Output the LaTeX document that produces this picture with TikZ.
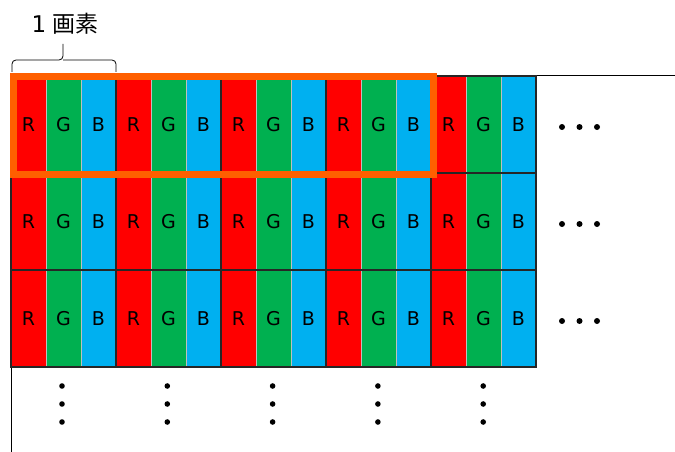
\documentclass[tikz,border=0pt]{standalone}
\usepackage{fontspec}
\setmainfont{DejaVu Sans}
\newfontfamily\cjk{Noto Sans CJK JP}
\definecolor{subR}{HTML}{FF0000}
\definecolor{subG}{HTML}{00B050}
\definecolor{subB}{HTML}{00B0F0}
\definecolor{frameorange}{HTML}{FF5F00}
\definecolor{pixedge}{HTML}{262626}
\begin{document}
\begin{tikzpicture}[x=1pt,y=-1pt,
  subpix/.style={rectangle,inner sep=0pt,minimum width=35pt,minimum height=97pt,
    draw=black!25,line width=0.8pt,font=\fontsize{19}{22}\selectfont},
  pixbox/.style={rectangle,inner sep=0pt,minimum width=105pt,minimum height=97pt,
    draw=pixedge,line width=1.1pt},
  dotmark/.style={fill=black},
  axis/.style={draw=black,line width=1pt}]
  \useasboundingbox (0,0) rectangle (675,452);

  % axes
  \coordinate (axO) at (11,76);
  \coordinate (axX) at (675,76);
  \coordinate (axY) at (11,452);
  \draw[axis] (axX) -- (axO) -- (axY);

  % 3 rows x 5 pixels, each made of R, G, B stripes
  \foreach \r in {0,1,2}{
    \foreach \p in {0,...,4}{
      \foreach \k/\c/\t in {0/subR/R,1/subG/G,2/subB/B}{
        \node[subpix,fill=\c] (s-\r-\p-\k) at ({11+105*\p+35*\k+17.5},{76+97*\r+48.5}) {\t};
      }
      \node[pixbox] (px-\r-\p) at ({11+105*\p+52.5},{76+97*\r+48.5}) {};
    }
  }

  % highlight of the first row of four pixels
  \draw[frameorange,line width=7pt] (13,76.5) rectangle (433,174.5);

  % brace marking one pixel
  \draw[line width=0.8pt,rounded corners=4pt] (12,72) -- (12,60) -- (63,60) -- (63,44);
  \draw[line width=0.8pt,rounded corners=4pt] (116,72) -- (116,60) -- (63,60);
  \node[font=\fontsize{23}{27}\selectfont,inner sep=0pt] (lbl) at (65,24) {1\hspace{6pt}{\cjk 画素}};

  % continuation dots to the right
  \foreach \r in {0,1,2}{
    \foreach \dx in {562,579.5,597}{
      \fill[dotmark] ({\dx},{127+97*\r}) circle (3);
    }
  }
  % continuation dots below
  \foreach \p in {0,...,4}{
    \foreach \dy in {386,404,422}{
      \fill[dotmark] ({62+105.3*\p},{\dy}) circle (2.8);
    }
  }
\end{tikzpicture}
\end{document}
